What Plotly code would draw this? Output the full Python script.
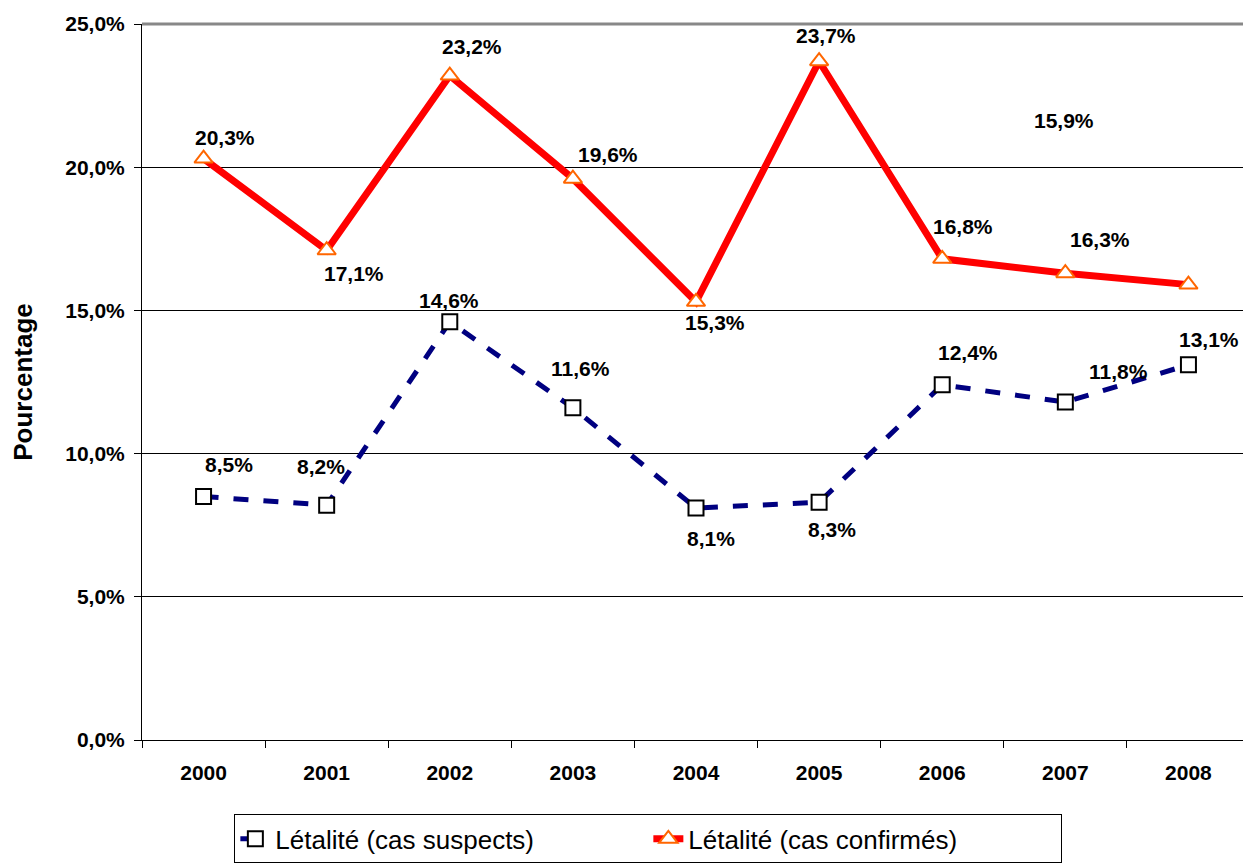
import plotly.graph_objects as go

years = ["2000", "2001", "2002", "2003", "2004", "2005", "2006", "2007", "2008"]
suspects = [8.5, 8.2, 14.6, 11.6, 8.1, 8.3, 12.4, 11.8, 13.1]
confirmes = [20.3, 17.1, 23.2, 19.6, 15.3, 23.7, 16.8, 16.3, 15.9]
y_ticks = [0, 5, 10, 15, 20, 25]

# label offsets (pixels) relative to the points
off_conf = [(21, 21), (27, -23), (22, 29), (35, 24), (19, -21), (7, 26), (21, 32), (35, 34), (-124, 164)]
off_susp = [(25, 32), (-6, 39), (-1, 21), (8, 39), (15, -30), (13, -27), (26, 32), (53, 31), (21, 25)]

def fmt(v):
    return f"{v:.1f}%".replace(".", ",")

FONT = "Liberation Sans, Arial, sans-serif"

fig = go.Figure()
fig.add_trace(go.Scatter(
    x=years, y=suspects, mode="lines+markers", name="Létalité (cas suspects)",
    line=dict(color="#000080", width=5, dash="dash"),
    marker=dict(symbol="square", size=15, color="white", line=dict(color="black", width=2)),
))
fig.add_trace(go.Scatter(
    x=years, y=confirmes, mode="lines+markers", name="Létalité (cas confirmés)",
    line=dict(color="#FF0000", width=7),
    marker=dict(symbol="triangle-up", size=16, color="white", line=dict(color="#FF6600", width=2)),
))

for ys, offs in ((confirmes, off_conf), (suspects, off_susp)):
    for i, (y, (dx, dy)) in enumerate(zip(ys, offs)):
        fig.add_annotation(
            x=i, y=y, xref="x", yref="y", text="<b>" + fmt(y) + "</b>", showarrow=False,
            xshift=dx, yshift=dy,
            font=dict(family=FONT, size=21, color="black"),
        )

fig.update_layout(
    width=1243, height=857,
    margin=dict(l=134, r=1, t=16, b=125),
    paper_bgcolor="white", plot_bgcolor="white",
    font=dict(family=FONT, color="black"),
    showlegend=True,
    legend=dict(
        orientation="h", x=0.457, xanchor="center", y=-0.104, yanchor="top",
        bordercolor="black", borderwidth=1,
        entrywidth=368, entrywidthmode="pixels",
        font=dict(family=FONT, size=26, color="black"),
    ),
    xaxis=dict(
        type="category", range=[-0.5, 8.5],
        tickvals=years, ticktext=["<b>" + y + "</b>" for y in years],
        showline=True, linecolor="black", linewidth=1,
        ticks="outside", tickson="boundaries", ticklen=7, tickcolor="black",
        ticklabelstandoff=14,
        showgrid=False,
        tickfont=dict(family=FONT, size=21, color="black"),
    ),
    yaxis=dict(
        range=[0, 25], tickvals=y_ticks, ticktext=["<b>" + fmt(v) + "</b>" for v in y_ticks],
        showline=True, linecolor="black", linewidth=1,
        ticks="outside", ticklen=7, tickcolor="black",
        ticklabelstandoff=5,
        showgrid=True, gridcolor="black", gridwidth=1,
        zeroline=False, automargin=False,
        tickfont=dict(family=FONT, size=21, color="black"),
        title=dict(text="<b>Pourcentage</b>", font=dict(family=FONT, size=26, color="black"), standoff=27),
    ),
)

fig.add_shape(type="line", xref="paper", yref="paper", x0=1, x1=1, y0=0, y1=1,
              line=dict(color="#555555", width=2))
fig.add_shape(type="line", xref="paper", yref="paper", x0=0, x1=1, y0=1, y1=1,
              line=dict(color="#888888", width=3))

fig.write_html("out.html")
